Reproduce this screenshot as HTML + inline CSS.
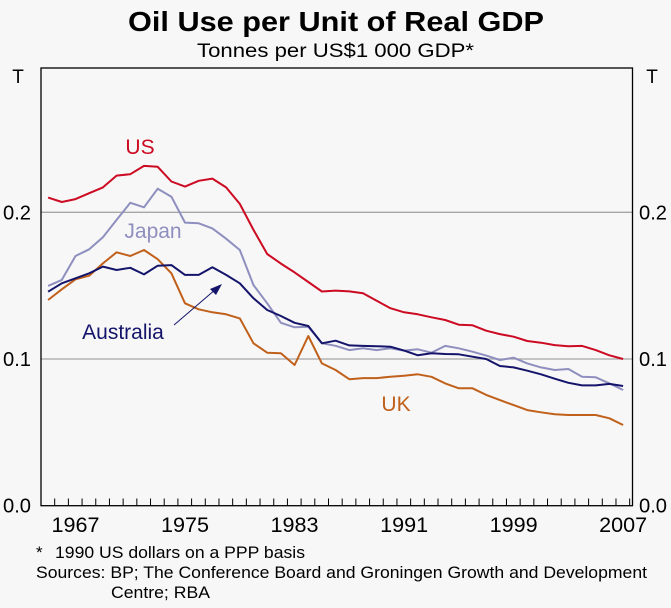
<!DOCTYPE html>
<html><head><meta charset="utf-8"><style>
html,body{margin:0;padding:0;background:#f7f7f7}
svg{display:block;font-family:"Liberation Sans",Arial,sans-serif}
</style></head><body>
<svg id="chart" width="671" height="608" viewBox="0 0 671 608">
<rect width="671" height="608" fill="#f7f7f7"/>
<text x="128" y="31" font-size="28" font-weight="bold" fill="#000" textLength="416" lengthAdjust="spacingAndGlyphs">Oil Use per Unit of Real GDP</text>
<text x="197" y="57" font-size="19" fill="#000" textLength="277" lengthAdjust="spacingAndGlyphs">Tonnes per US$1 000 GDP*</text>
<text x="18" y="83" text-anchor="middle" font-size="19">T</text>
<text x="652" y="83" text-anchor="middle" font-size="19">T</text>
<g id="grid"></g>
<g id="series"></g>
<rect x="41" y="68" width="591.5" height="437.7" fill="none" stroke="#000" stroke-width="1.3"/>
<g id="ticks"></g>
<g id="ylabels"></g>
<g id="xlabels"></g>
<text x="140" y="154" text-anchor="middle" font-size="21" fill="#cc0a22">US</text>
<text x="153" y="238" text-anchor="middle" font-size="21" fill="#8e8fbf">Japan</text>
<text x="123" y="339" text-anchor="middle" font-size="21" fill="#14146b">Australia</text>
<text x="396" y="411" text-anchor="middle" font-size="21" fill="#c0601a">UK</text>
<line x1="174" y1="325" x2="216" y2="289" stroke="#14146b" stroke-width="1"/>
<polygon points="222,284 210,289 216,295" fill="#14146b"/>
<text x="36" y="558" font-size="17">*</text>
<text x="55" y="558" font-size="17" textLength="250" lengthAdjust="spacingAndGlyphs">1990 US dollars on a PPP basis</text>
<text x="36" y="578" font-size="17" textLength="611" lengthAdjust="spacingAndGlyphs">Sources: BP; The Conference Board and Groningen Growth and Development</text>
<text x="111" y="598" font-size="17" textLength="99" lengthAdjust="spacingAndGlyphs">Centre; RBA</text>
</svg>
<script>
const years = [];
for (let y = 1965; y <= 2007; y++) years.push(y);
const usValues = [0.210,0.207,0.209,0.213,0.217,0.225,0.226,0.2316,0.231,0.221,0.2175,0.2215,0.223,0.217,0.2057,0.188,0.1716,0.165,0.159,0.1525,0.146,0.1466,0.1461,0.1448,0.1397,0.1346,0.1318,0.1305,0.1284,0.1266,0.1234,0.123,0.1193,0.117,0.1152,0.1123,0.1111,0.1095,0.1087,0.1089,0.1061,0.1025,0.100];
const japanValues = [0.1498,0.1539,0.1702,0.1748,0.183,0.1948,0.2065,0.2034,0.2161,0.2106,0.193,0.1925,0.189,0.182,0.1743,0.1504,0.138,0.1247,0.1216,0.122,0.1107,0.109,0.1061,0.1073,0.1061,0.1073,0.1057,0.1066,0.1043,0.1089,0.1073,0.105,0.1023,0.0993,0.1009,0.097,0.0943,0.0925,0.0932,0.0879,0.0875,0.0834,0.0789];
const australiaValues = [0.1459,0.1516,0.155,0.1584,0.163,0.1607,0.1622,0.1577,0.1636,0.164,0.1573,0.1573,0.1625,0.1573,0.1516,0.1414,0.1334,0.1293,0.1247,0.1225,0.1107,0.1125,0.1093,0.1089,0.1087,0.1084,0.1057,0.1025,0.1039,0.1034,0.1032,0.1016,0.100,0.0952,0.0943,0.092,0.0896,0.0866,0.0838,0.082,0.082,0.083,0.0816];
const ukValues = [0.1402,0.1475,0.1543,0.1568,0.1652,0.1727,0.1702,0.1743,0.168,0.1584,0.138,0.1339,0.1318,0.1305,0.1277,0.1107,0.1043,0.1039,0.0959,0.1157,0.097,0.0925,0.0862,0.087,0.087,0.0879,0.0886,0.0896,0.0879,0.0834,0.080,0.080,0.0755,0.072,0.0686,0.0652,0.0637,0.0623,0.0618,0.0618,0.0618,0.0596,0.055];
const yTickValues = [0.0, 0.1, 0.2];
const yTickLabels = ["0.0", "0.1", "0.2"];
const xLabelYears = [1967, 1975, 1983, 1991, 1999, 2007];

const NS = "http://www.w3.org/2000/svg";
const x0 = 41, yearW = 13.69;
function xScale(yr) { return x0 + (yr - 1965 + 0.5) * yearW + 0.3; }
function yScale(v) { return 505.7 - v * 1467; }
function mk(tag, attrs, parent) {
  const e = document.createElementNS(NS, tag);
  for (const k in attrs) e.setAttribute(k, attrs[k]);
  parent.appendChild(e); return e;
}
const grid = document.getElementById('grid');
const yl = document.getElementById('ylabels');
yTickValues.forEach((v, i) => {
  if (v > 0) {
    const l = mk('line', {x1: 41, x2: 632.5, y1: yScale(v), y2: yScale(v), stroke: '#a6a6a6', 'stroke-width': 1.3}, grid);
    
    
  }
  const t1 = mk('text', {x: 17, y: yScale(v) + 7, 'text-anchor': 'middle', 'font-size': 20, textLength: 28, lengthAdjust: 'spacingAndGlyphs'}, yl);
  t1.textContent = yTickLabels[i];
  
  
  const t2 = mk('text', {x: 653, y: yScale(v) + 7, 'text-anchor': 'middle', 'font-size': 20, textLength: 28, lengthAdjust: 'spacingAndGlyphs'}, yl);
  t2.textContent = yTickLabels[i];
  
  
});
const ticks = document.getElementById('ticks');
years.forEach(yr => {
  const x = x0 + (yr - 1965 + 1) * yearW;
  if (x < 630) {
    const t = mk('line', {x1: x, x2: x, y1: 505.7, y2: 498.5, stroke: '#000', 'stroke-width': 1}, ticks);
    
    
  }
});
const xl = document.getElementById('xlabels');
xLabelYears.forEach(yr => {
  const t = mk('text', {x: xScale(yr), y: 532, 'text-anchor': 'middle', 'font-size': 21, textLength: 48, lengthAdjust: 'spacingAndGlyphs'}, xl);
  t.textContent = String(yr);
  
  
});
const ser = document.getElementById('series');
function drawLine(vals, color, name) {
  const d = vals.map((v, i) => (i ? 'L' : 'M') + xScale(years[i]).toFixed(1) + ',' + yScale(v).toFixed(1)).join('');
  const p = mk('path', {d: d, fill: 'none', stroke: color, 'stroke-width': 2, 'stroke-linejoin': 'round'}, ser);
  
  
}
drawLine(ukValues, '#c0601a', 'uk-line');
drawLine(japanValues, '#8e8fbf', 'japan-line');
drawLine(australiaValues, '#14146b', 'australia-line');
drawLine(usValues, '#cc0a22', 'us-line');
</script>
</body></html>
